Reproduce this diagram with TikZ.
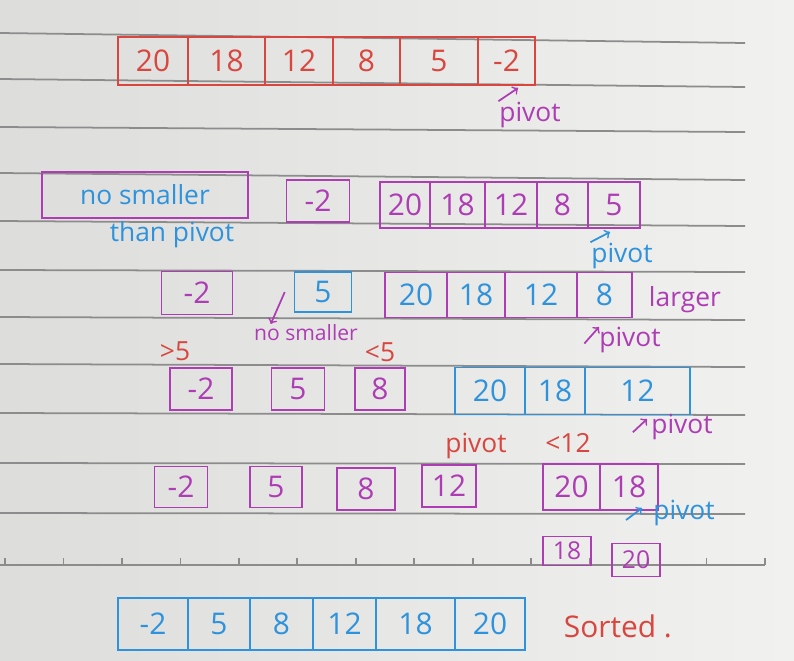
\documentclass[tikz,border=0pt]{standalone}
\usepackage{fontspec}
\setmainfont{Open Sans}
\usetikzlibrary{positioning}

\definecolor{penred}{HTML}{D8463F}
\definecolor{penpurple}{HTML}{AE3CB4}
\definecolor{penblue}{HTML}{2E92DC}
\definecolor{ruleline}{HTML}{8C8C8C}
\definecolor{paperdark}{HTML}{DDDEDC}
\definecolor{paperlight}{HTML}{F1F1EF}

\begin{document}
\begin{tikzpicture}[x=0.02cm, y=-0.02cm, line width=1.1pt,
    lbl/.style={inner sep=0pt, font=\fontsize{15}{17}\selectfont},
    box/.style={draw, inner sep=0pt, font=\fontsize{17}{19}\selectfont},
    sz/.style 2 args={minimum width=(#1)*0.02cm, minimum height=(#2)*0.02cm},
    pen/.style={->, line width=1pt}]

	\useasboundingbox (0,0) rectangle (794,660);

	% carta a righe
	\shade[left color=paperdark, right color=paperlight] (0,0) rectangle (794,660);
	\foreach \yl/\yr in {33/43, 79/87, 127/132, 173/180, 221/226, 270/272, 317/320, 364/367, 413/415, 463/464, 513/514}
		\draw[ruleline, line width=1pt] (0,\yl) -- (745,\yr);
	\draw[ruleline, line width=1pt] (0,565) -- (765,565);
	\foreach \k in {0,...,13}
		\draw[ruleline, line width=1pt] ({5+58.46*\k},565) -- ++(0,-7);

	% --- RIGA 1: array iniziale ---
	\foreach \l/\r/\v [count=\i] in {118/188/20, 188/265/18, 265/333/12, 333/400/8, 400/478/5, 478/535/-2}
		\node[box, penred, sz={\r-\l}{48}] (a\i) at ({(\l+\r)/2},61) {\v};
	\node[lbl, penpurple] (p1) at (530,115) {pivot};
	\coordinate (t1) at (518,88);
	\draw[pen, penpurple] (p1.north west) -- (t1);

	% --- RIGA 2 ---
	\node[box, draw=penpurple, text=penblue, font=\fontsize{15}{17}\selectfont, sz={206}{46}] (nosm) at (145,195) {no smaller};
	\node[lbl, penblue] (thanp) at (172,235) {than pivot};
	\node[box, penpurple, sz={63}{42}] (b1) at (318,201) {-2};
	\foreach \l/\r/\v [count=\i] in {380/430/20, 430/485/18, 485/537/12, 537/588/8, 588/640/5}
		\node[box, penpurple, sz={\r-\l}{46}] (c\i) at ({(\l+\r)/2},205) {\v};
	\node[lbl, penblue] (p2) at (622,256) {pivot};
	\coordinate (t2) at (610,232);
	\draw[pen, penblue] (p2.north west) -- (t2);

	% --- RIGA 3 ---
	\node[box, penpurple, sz={71}{43}] (d1) at (197,293) {-2};
	\node[box, penblue, sz={57}{40}] (d2) at (323,292) {5};
	\foreach \l/\r/\v [count=\i] in {385/447/20, 447/505/18, 505/577/12, 577/632/8}
		\node[box, draw=penpurple, text=penblue, sz={\r-\l}{45}] (e\i) at ({(\l+\r)/2},295) {\v};
	\node[lbl, penpurple, anchor=west] (lrg) at (648,300) {larger};
	\node[lbl, penpurple, font=\fontsize{12}{14}\selectfont] (nsm) at (306,333) {no smaller};
	\draw[pen, penpurple] ([xshift=-5pt]d2.west) -- ([xshift=10pt]nsm.north west);
	\node[lbl, penpurple] (p3) at (630,340) {pivot};
	\coordinate (t3) at (599,327);
	\draw[pen, penpurple] ([xshift=-8pt, yshift=-2pt]p3.west) -- (t3);

	% --- RIGA 4 ---
	\node[lbl, penred] (gt5) at (175,351) {>5};
	\node[lbl, penred] (lt5) at (380,352) {<5};
	\node[box, penpurple, sz={62}{42}] (f1) at (201,389) {-2};
	\node[box, penpurple, sz={53}{42}] (f2) at (298,389) {5};
	\node[box, penpurple, sz={50}{42}] (f3) at (380,389) {8};
	\foreach \l/\r/\v [count=\i] in {455/525/20, 525/585/18, 585/690/12}
		\node[box, penblue, sz={\r-\l}{47}] (g\i) at ({(\l+\r)/2},391) {\v};
	\node[lbl, penpurple] (p4) at (682,427) {pivot};
	\coordinate (t4) at (647,419);
	\draw[pen, penpurple] ([xshift=-10pt, yshift=-3pt]p4.west) -- (t4);

	% --- RIGA 5 ---
	\node[lbl, penred] (pv5) at (476,446) {pivot};
	\node[lbl, penred] (lt12) at (568,443) {<12};
	\node[box, penpurple, sz={53}{41}] (h1) at (181,487) {-2};
	\node[box, penpurple, sz={52}{41}] (h2) at (276,487) {5};
	\node[box, penpurple, sz={58}{42}] (h3) at (366,489) {8};
	\node[box, penpurple, sz={54}{42}] (h4) at (449,486) {12};
	\foreach \l/\r/\v [count=\i] in {543/600/20, 600/658/18}
		\node[box, penpurple, sz={\r-\l}{46}] (k\i) at ({(\l+\r)/2},487) {\v};
	\node[lbl, penblue] (p5) at (684,513) {pivot};
	\coordinate (t5) at (642,508);
	\draw[pen, penblue] ([xshift=-15pt, yshift=-4pt]p5.west) -- (t5);

	% --- RIGA 6 ---
	\node[box, penpurple, font=\fontsize{14}{16}\selectfont, sz={48}{29}] (m1) at (567,551) {18};
	\node[box, penpurple, font=\fontsize{14}{16}\selectfont, sz={48}{33}] (m2) at (636,560) {20};

	% --- RIGA 7: ordinato ---
	\foreach \l/\r/\v [count=\i] in {118/188/-2, 188/250/5, 250/313/8, 313/376/12, 376/455/18, 455/525/20}
		\node[box, penblue, sz={\r-\l}{52}] (s\i) at ({(\l+\r)/2},624) {\v};
	\node[lbl, penred, anchor=west, font=\fontsize{17}{19}\selectfont] (srt) at (563,626) {Sorted .};

\end{tikzpicture}
\end{document}
